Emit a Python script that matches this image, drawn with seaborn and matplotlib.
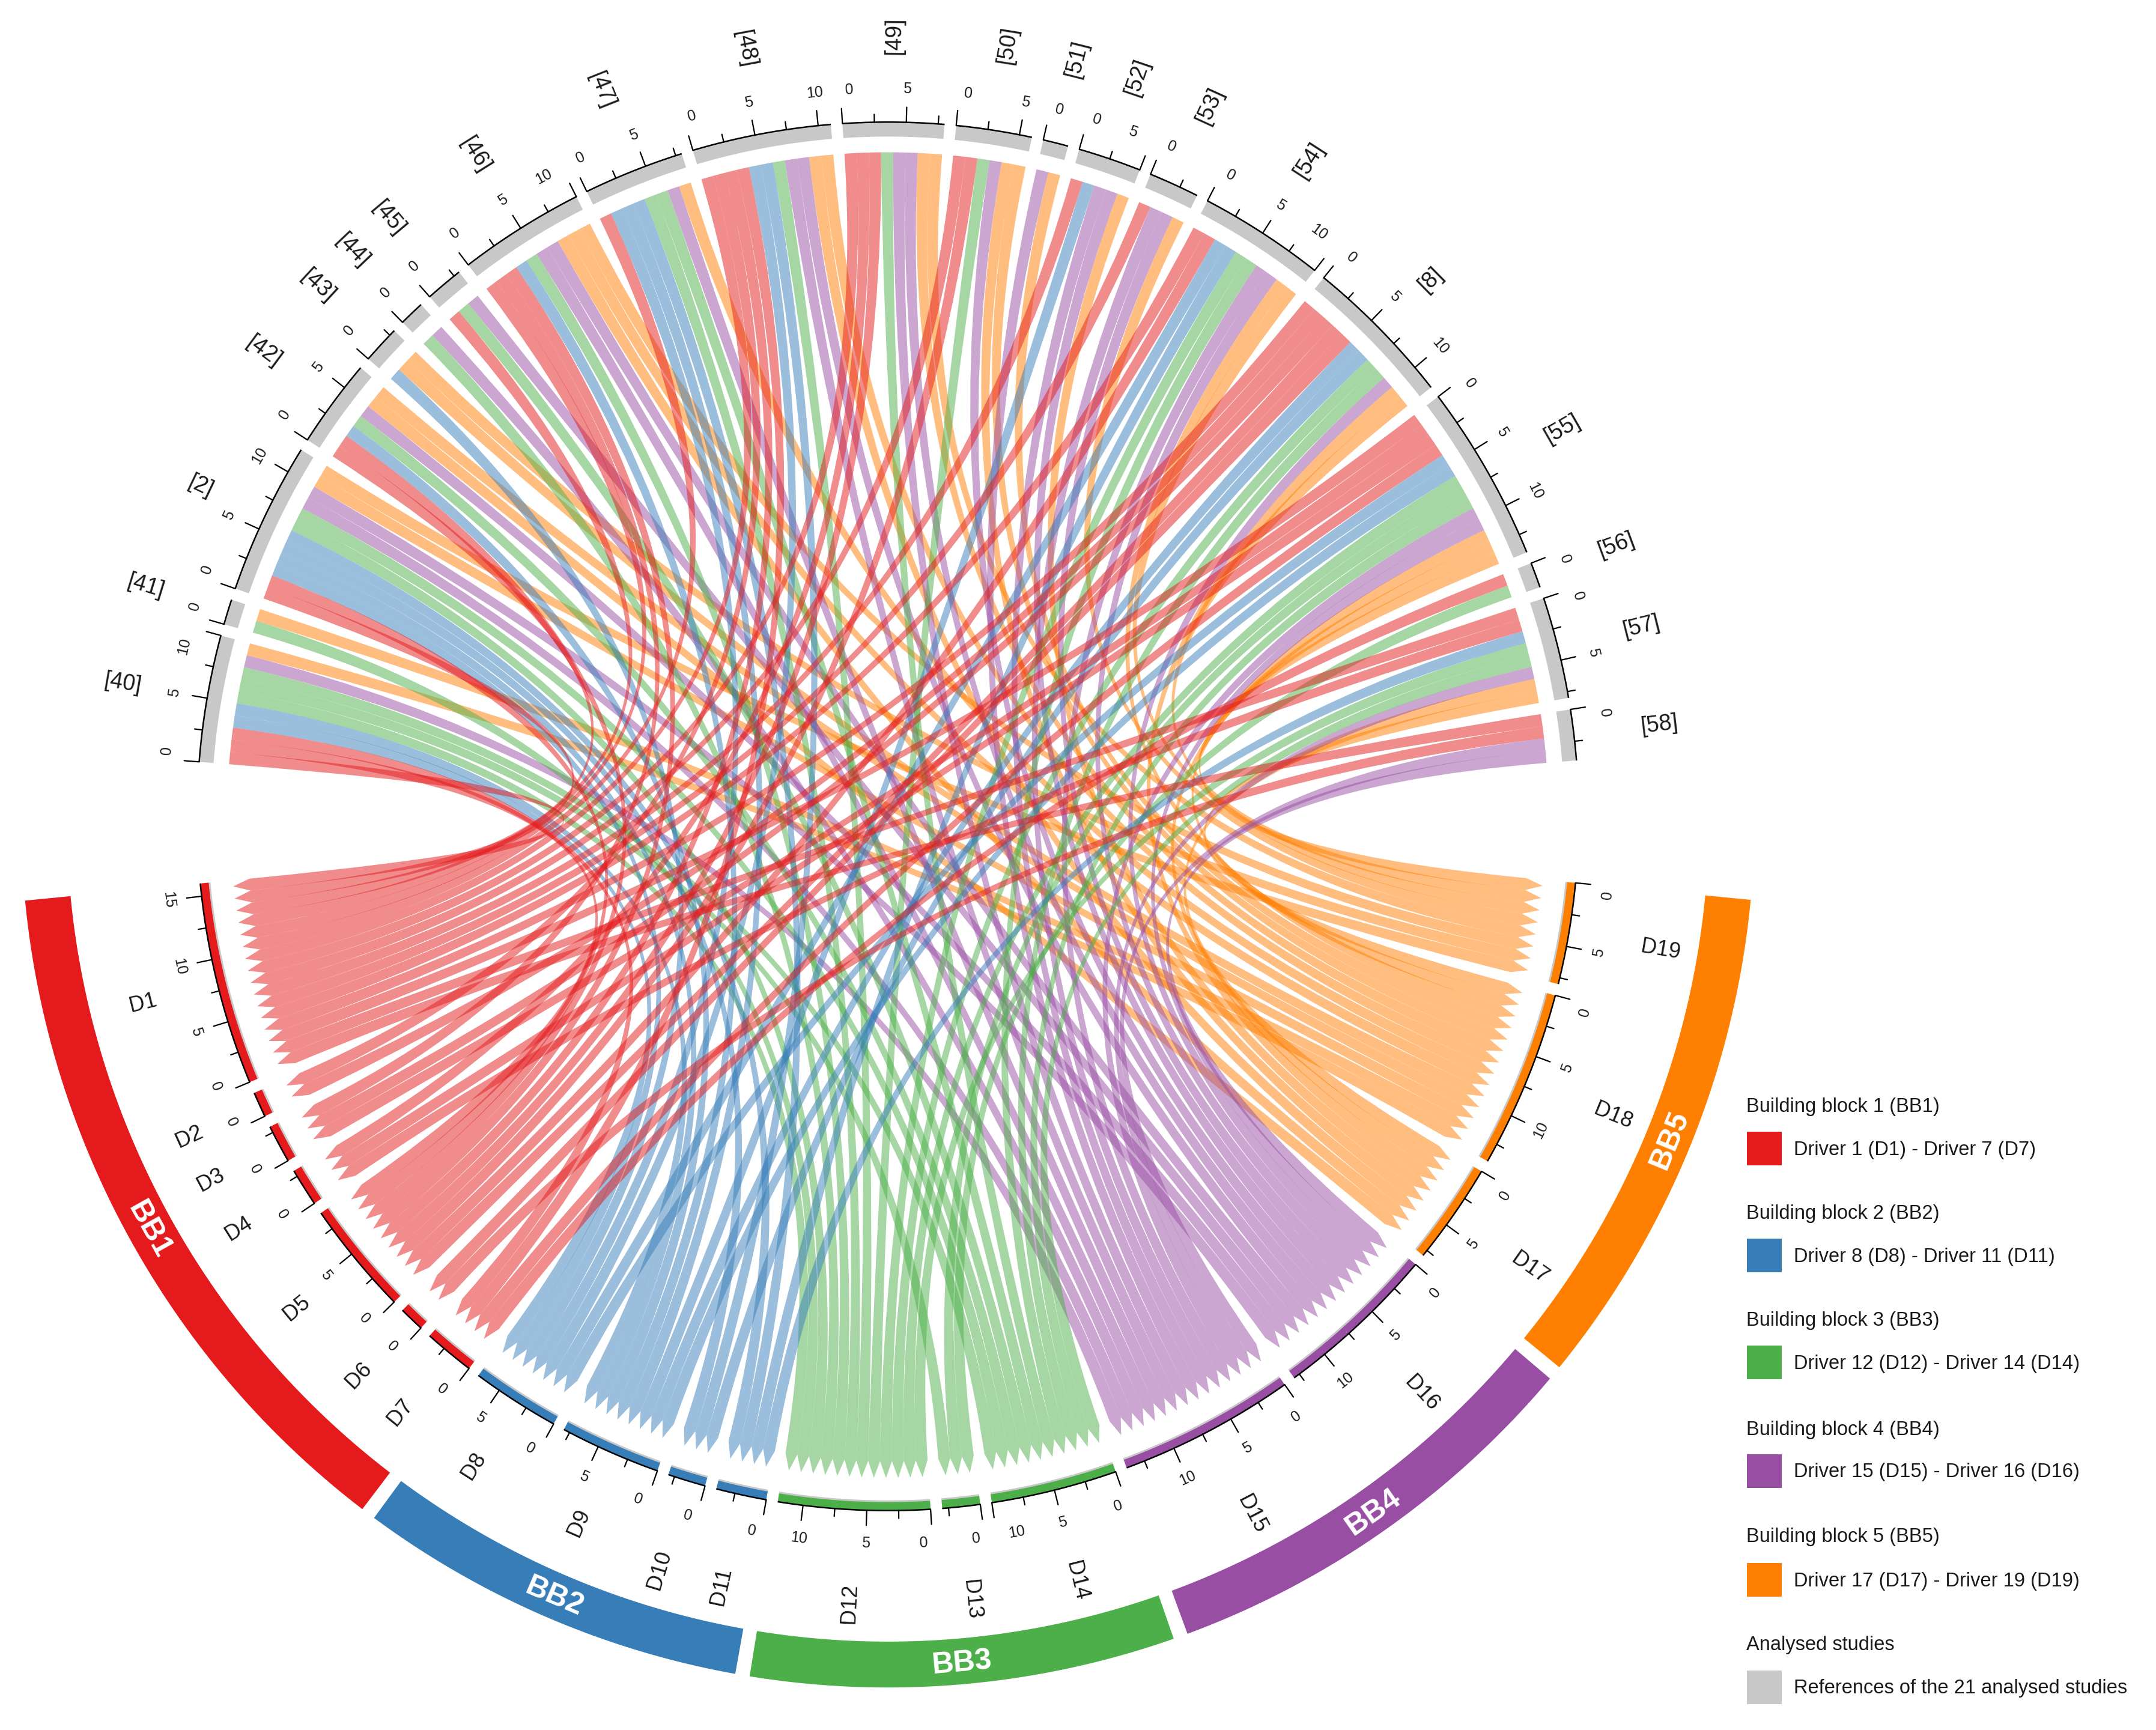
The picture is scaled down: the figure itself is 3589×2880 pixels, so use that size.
import numpy as np
import matplotlib
matplotlib.use("Agg")
import matplotlib.pyplot as plt
import seaborn as sns
from matplotlib.patches import PathPatch, Rectangle
from matplotlib.path import Path

# studies in clockwise order, top half of the circle
studies = ["[40]", "[41]", "[2]", "[42]", "[43]", "[44]", "[45]", "[46]", "[47]", "[48]", "[49]",
           "[50]", "[51]", "[52]", "[53]", "[54]", "[8]", "[55]", "[56]", "[57]", "[58]"]

# which drivers each study mentions, one list per building block, same order as studies
bb1_links = [[1, 5, 7], [], [1, 5], [1, 5], [], [], [1], [1, 3, 5], [1], [1, 2, 5, 7], [1, 4, 5],
             [1, 5], [], [1], [1], [1, 5], [1, 2, 3, 5, 6], [1, 3, 4, 7], [7], [1, 4], [1, 6]]
bb2_links = [[8, 9], [], [8, 9, 10, 11], [9], [8], [], [], [9], [8, 9, 11], [8, 10], [],
             [], [], [9], [], [8, 11], [9, 10], [8, 9], [], [11], []]
bb3_links = [[12, 13, 14], [12], [12, 14], [14], [], [12], [14], [12], [12, 14], [12], [14],
             [12], [], [], [], [12, 14], [12, 14], [12, 13, 14], [13], [12, 14], []]
bb4_links = [[15], [], [15, 16], [16], [], [15], [16], [15, 16], [15], [15, 16], [15, 16],
             [16], [15], [15, 16], [15, 16], [15, 16], [16], [15, 16], [], [15], [15, 16]]
bb5_links = [[18], [18], [18, 19], [17, 18], [18, 19], [], [], [17, 18, 19], [18], [17, 18], [18, 19],
             [17, 18], [18], [17], [19], [18, 19], [17, 19], [17, 18, 19], [], [17, 18], []]
block_links = [bb1_links, bb2_links, bb3_links, bb4_links, bb5_links]

block_names = ["BB1", "BB2", "BB3", "BB4", "BB5"]
block_drivers = [[1, 2, 3, 4, 5, 6, 7], [8, 9, 10, 11], [12, 13, 14], [15, 16], [17, 18, 19]]

legend_titles = ["Building block 1 (BB1)", "Building block 2 (BB2)", "Building block 3 (BB3)",
                 "Building block 4 (BB4)", "Building block 5 (BB5)", "Analysed studies"]
legend_labels = ["Driver 1 (D1) - Driver 7 (D7)", "Driver 8 (D8) - Driver 11 (D11)",
                 "Driver 12 (D12) - Driver 14 (D14)", "Driver 15 (D15) - Driver 16 (D16)",
                 "Driver 17 (D17) - Driver 19 (D19)", "References of the 21 analysed studies"]
legend_title_y = [1842, 2021, 2199, 2380, 2559, 2739]
legend_swatch_y = [1912, 2090, 2268, 2449, 2630, 2809]

W, H = 3589, 2880
cx, cy = 1478, H - 1359
R = 1150            # tick baseline
y_stretch = 1.005   # the circle is very slightly taller than wide
unit = 1.06         # degrees per link
gap = 0.965
top_start = 175.5
bottom_start = -5.5

sns.set_theme(style="white")
plt.rcParams["font.family"] = ["Liberation Sans", "DejaVu Sans"]
palette = sns.color_palette("Set1", 5)
grey = "#C8C8C8"
text_col = "#1a1a1a"

driver_color = {}
for i, ds in enumerate(block_drivers):
    for d in ds:
        driver_color[d] = palette[i]

# links per study / per driver
study_drivers = [sorted(sum((b[s] for b in block_links), [])) for s in range(len(studies))]
driver_ids = list(range(19, 0, -1))   # clockwise from the right
driver_studies = {d: [s for s in range(len(studies) - 1, -1, -1) if d in study_drivers[s]] for d in driver_ids}

# sector start angles, going clockwise
study_start = {}
a = top_start
for s in range(len(studies)):
    study_start[s] = a
    a -= len(study_drivers[s]) * unit + gap
driver_start = {}
a = bottom_start
for d in driver_ids:
    driver_start[d] = a
    a -= len(driver_studies[d]) * unit + gap


def pt(angle, r):
    t = np.radians(angle)
    return cx + r * np.cos(t), cy + y_stretch * r * np.sin(t)


def radial_rot(angle):
    angle = angle % 360
    return angle if angle < 90 or angle > 270 else angle - 180


def tangent_rot(angle):
    angle = angle % 360
    return angle - 90 if angle < 180 else angle + 90


def band(ax, a1, a2, r_in, r_out, color):
    angs = np.linspace(a1, a2, 60)
    xo, yo = pt(angs, r_out)
    xi, yi = pt(angs[::-1], r_in)
    ax.fill(np.r_[xo, xi], np.r_[yo, yi], facecolor=color, edgecolor="none", lw=0)


def axis_ticks(ax, start, n):
    end = start - n * unit
    angs = np.linspace(start, end, 40)
    xs, ys = pt(angs, R)
    ax.plot(xs, ys, color="black", lw=1.8, solid_capstyle="butt")
    for v in np.arange(0, n + 0.01, 2.5):
        ang = start - v * unit
        major = v % 5 == 0
        x0, y0 = pt(ang, R)
        x1, y1 = pt(ang, R + (25 if major else 13))
        ax.plot([x0, x1], [y0, y1], color="black", lw=1.6)
        if major:
            # labels at the sector edges are pulled inwards so they do not run together
            shift = 0.7 if v == 0 else (-1.6 if v == n else 0)
            x2, y2 = pt(ang - shift, R + 55)
            ax.text(x2, y2, str(int(v)), fontsize=18, color=text_col, ha="center", va="center",
                    rotation=tangent_rot(ang - shift), rotation_mode="anchor")


def draw_link(ax, a1, a2, c1, c2, color):
    # study side arc a1 -> a2, driver side tooth c1 -> c2, control point at the centre
    r_study, r_base, r_tip = 1100, 1068, 1096
    ctrl = (cx, cy)
    verts = [pt(a1, r_study)]
    codes = [Path.MOVETO]
    for ang in np.linspace(a1, a2, 5)[1:]:
        verts.append(pt(ang, r_study))
        codes.append(Path.LINETO)
    verts += [ctrl, pt(c1, r_base)]
    codes += [Path.CURVE3, Path.CURVE3]
    verts += [pt((c1 + c2) / 2, r_tip), pt(c2, r_base)]
    codes += [Path.LINETO, Path.LINETO]
    verts += [ctrl, pt(a1, r_study)]
    codes += [Path.CURVE3, Path.CURVE3]
    ax.add_patch(PathPatch(Path(verts, codes), facecolor=color, edgecolor="none", lw=0, alpha=0.5))


fig = plt.figure(figsize=(W / 100, H / 100), dpi=100)
ax = fig.add_axes([0, 0, 1, 1])
ax.set_xlim(0, W)
ax.set_ylim(0, H)
ax.axis("off")

# links, red ends up on top
for d in sorted(driver_ids, reverse=True):
    for s in driver_studies[d]:
        i = study_drivers[s].index(d)
        j = driver_studies[d].index(s)
        a1 = study_start[s] - i * unit
        c1 = driver_start[d] - j * unit
        draw_link(ax, a1, a1 - unit, c1, c1 - unit, driver_color[d])

# study sectors
for s, name in enumerate(studies):
    n = len(study_drivers[s])
    start = study_start[s]
    band(ax, start, start - n * unit, R - 24, R, grey)
    axis_ticks(ax, start, n)
    mid = start - n * unit / 2
    x, y = pt(mid, 1293 if len(name) == 4 else 1268)
    ax.text(x, y, name, fontsize=27, color=text_col, ha="center", va="center",
            rotation=radial_rot(mid), rotation_mode="anchor")

# driver sectors
for d in driver_ids:
    n = len(driver_studies[d])
    start = driver_start[d]
    band(ax, start, start - n * unit, R - 17, R - 13, grey)
    band(ax, start, start - n * unit, R - 14, R, driver_color[d])
    axis_ticks(ax, start, n)
    mid = start - n * unit / 2
    x, y = pt(mid, 1305 if d >= 10 else 1278)
    ax.text(x, y, "D%d" % d, fontsize=26, color=text_col, ha="center", va="center",
            rotation=radial_rot(mid), rotation_mode="anchor")

# outer building block bands
for i, ds in enumerate(block_drivers):
    first = driver_start[ds[-1]]
    last = driver_start[ds[0]] - len(driver_studies[ds[0]]) * unit
    band(ax, first, last, 1367, 1443, palette[i])
    mid = (first + last) / 2
    x, y = pt(mid, 1408)
    ax.text(x, y, block_names[i], fontsize=36, fontweight="bold", color="white", ha="center", va="center",
            rotation=tangent_rot(mid), rotation_mode="anchor")

# legend
swatch_cols = list(palette) + [grey]
for title, lab, ty, sy, col in zip(legend_titles, legend_labels, legend_title_y, legend_swatch_y, swatch_cols):
    ax.text(2907, H - ty, title, fontsize=23.5, color=text_col, ha="left", va="center")
    ax.add_patch(Rectangle((2908, H - sy - 28), 58, 56, facecolor=col, edgecolor="none"))
    ax.text(2986, H - sy - 2, lab, fontsize=23.5, color=text_col, ha="left", va="center")

fig.savefig("out.png", dpi=100, facecolor="white")
